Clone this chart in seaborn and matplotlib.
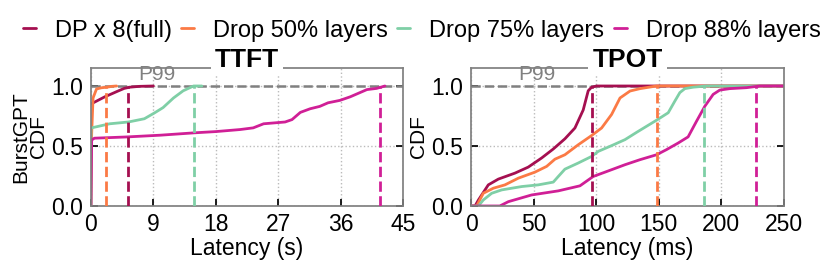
import matplotlib
matplotlib.use("Agg")
import matplotlib.pyplot as plt
import seaborn as sb
import pandas as pd

configs = ["DP x 8(full)", "Drop 50% layers", "Drop 75% layers", "Drop 88% layers"]
colors = ["#a50f50", "#fb7a45", "#7fcfa6", "#d01f96"]

# TTFT (s)
ttft_dp_x = [0, 1, 2, 3, 3.9, 4.8, 5.6, 7, 9]
ttft_dp_y = [0.85, 0.88, 0.91, 0.935, 0.958, 0.98, 0.99, 0.997, 1.0]
ttft_d50_x = [0, 0.1, 0.3, 0.8, 1.5, 2.3, 3.0, 3.7]
ttft_d50_y = [0, 0.6, 0.9, 0.975, 0.985, 0.99, 0.997, 1.0]
ttft_d75_x = [0, 0, 2.7, 5.4, 7.7, 9.2, 10.4, 11.9, 13.3, 14.8, 16.0]
ttft_d75_y = [0, 0.65, 0.685, 0.70, 0.727, 0.777, 0.82, 0.90, 0.96, 1.0, 1.0]
ttft_d88_x = [0, 0.1, 0.5, 5, 10, 15, 18, 21.5, 23.4, 24.9, 28.0, 29.0, 30.2,
              31.6, 33.0, 34.2, 35.9, 37.4, 38.6, 39.8, 41.2, 42.4]
ttft_d88_y = [0, 0.55, 0.565, 0.575, 0.59, 0.61, 0.62, 0.637, 0.651, 0.685, 0.70,
              0.72, 0.78, 0.81, 0.83, 0.86, 0.88, 0.91, 0.94, 0.97, 0.98, 1.0]
ttft_p99 = [5.4, 2.2, 14.9, 41.7]

# TPOT (ms)
tpot_dp_x = [0, 3.2, 5.9, 13.8, 21.8, 35.1, 45.7, 56.4, 65.7, 75, 83, 89.6,
             93.6, 96.3, 100.3, 250]
tpot_dp_y = [0, 0, 0.05, 0.176, 0.224, 0.274, 0.324, 0.40, 0.475, 0.56, 0.65,
             0.80, 0.96, 0.99, 1.0, 1.0]
tpot_d50_x = [0, 4.5, 9.8, 17.8, 27.1, 37.8, 51, 60.4, 67, 75, 85.6, 96.3,
              104.3, 112.3, 119, 127, 135, 148.2, 250]
tpot_d50_y = [0, 0, 0.106, 0.148, 0.176, 0.232, 0.282, 0.33, 0.39, 0.427, 0.51,
              0.587, 0.65, 0.763, 0.90, 0.958, 0.978, 1.0, 1.0]
tpot_d75_x = [0, 5.9, 9.8, 16.5, 24.5, 40.5, 53.7, 65.7, 69.7, 75, 85.6, 96.3,
              101.6, 112.3, 123, 132.3, 148.2, 157.5, 162.8, 166.8, 170.8,
              177.4, 188, 250]
tpot_d75_y = [0, 0, 0.05, 0.106, 0.134, 0.162, 0.176, 0.199, 0.246, 0.307,
              0.358, 0.413, 0.455, 0.503, 0.553, 0.614, 0.715, 0.777, 0.874,
              0.945, 0.978, 0.99, 1.0, 1.0]
tpot_d88_x = [0, 23, 29.8, 48.4, 69.7, 87, 97.6, 107, 123, 135, 148.2, 156.2,
              165.5, 173.4, 180.1, 186.8, 193.4, 198.7, 206.7, 220, 230.6, 250]
tpot_d88_y = [0, 0, 0.036, 0.092, 0.126, 0.168, 0.246, 0.282, 0.344, 0.386,
              0.427, 0.47, 0.525, 0.576, 0.706, 0.832, 0.93, 0.966, 0.978,
              0.986, 1.0, 1.0]
tpot_p99 = [97, 148.5, 186, 227.5]

ttft_ticks = [0, 9, 18, 27, 36, 45]
tpot_ticks = [0, 50, 100, 150, 200, 250]


def make_df(xs, ys):
    rows = []
    for name, x, y in zip(configs, xs, ys):
        for a, b in zip(x, y):
            rows.append({"Latency": a, "CDF": b, "Config": name})
    return pd.DataFrame(rows)


ttft = make_df([ttft_dp_x, ttft_d50_x, ttft_d75_x, ttft_d88_x],
               [ttft_dp_y, ttft_d50_y, ttft_d75_y, ttft_d88_y])
tpot = make_df([tpot_dp_x, tpot_d50_x, tpot_d75_x, tpot_d88_x],
               [tpot_dp_y, tpot_d50_y, tpot_d75_y, tpot_d88_y])

sb.set_theme(style="ticks")
plt.rcParams["font.family"] = ["Liberation Sans", "DejaVu Sans"]
plt.rcParams["text.color"] = "black"
plt.rcParams["axes.labelcolor"] = "black"
plt.rcParams["xtick.color"] = "black"
plt.rcParams["ytick.color"] = "black"

fig = plt.figure(figsize=(8.3, 2.66), dpi=100)
ax1 = fig.add_axes([0.1096, 0.2256, 0.3759, 0.5188])
ax2 = fig.add_axes([0.5675, 0.2256, 0.3771, 0.5188])

panels = [
    (ax1, ttft, ttft_p99, ttft_ticks, "TTFT", "Latency (s)", "BurstGPT\nCDF"),
    (ax2, tpot, tpot_p99, tpot_ticks, "TPOT", "Latency (ms)", "CDF"),
]

for ax, df, p99, ticks, title, xlabel, ylabel in panels:
    sb.lineplot(data=df, x="Latency", y="CDF", hue="Config", palette=colors,
                sort=False, estimator=None, linewidth=2, ax=ax)
    ax.get_legend().remove()
    ax.vlines(p99, 0, 1.0, colors=colors, linestyles="--", linewidth=2, zorder=3)
    ax.axhline(1.0, color="gray", linestyle="--", linewidth=1.8, zorder=1)
    # P99 label sits just above the dashed 1.0 line
    ax.text(0.21, 1.095 / 1.15, "P99", transform=ax.transAxes,
            color="gray", fontsize=15, ha="center", va="center")
    ax.set_xlim(ticks[0], ticks[-1])
    ax.set_ylim(0, 1.15)
    ax.set_xticks(ticks)
    ax.set_yticks([0, 0.5, 1.0])
    ax.set_yticklabels(["0.0", "0.5", "1.0"])
    ax.tick_params(labelsize=16.5, direction="in", length=5, right=True)
    ax.tick_params(axis="y", pad=6)
    ax.tick_params(axis="x", pad=5)
    ax.grid(True, linestyle=":", color="#bbbbbb", linewidth=1)
    for s in ax.spines.values():
        s.set_color("gray")
    ax.set_xlabel(xlabel, fontsize=16.5, labelpad=1)
    ax.set_ylabel(ylabel, fontsize=15, labelpad=2, linespacing=0.9)
    ax.text(0.5, 1.06, title, transform=ax.transAxes, fontsize=19,
            fontweight="bold", ha="center", va="center", zorder=5,
            bbox=dict(boxstyle="square,pad=0.15", fc="white", ec="none"))

handles = [plt.Line2D([], [], color=c, linewidth=2) for c in colors]
fig.legend(handles, configs, loc="center", bbox_to_anchor=(0.508, 0.885), ncol=4,
           frameon=False, fontsize=17, handlelength=0.55, handletextpad=0.8,
           columnspacing=0.4)

fig.savefig("out.png", dpi=100)
